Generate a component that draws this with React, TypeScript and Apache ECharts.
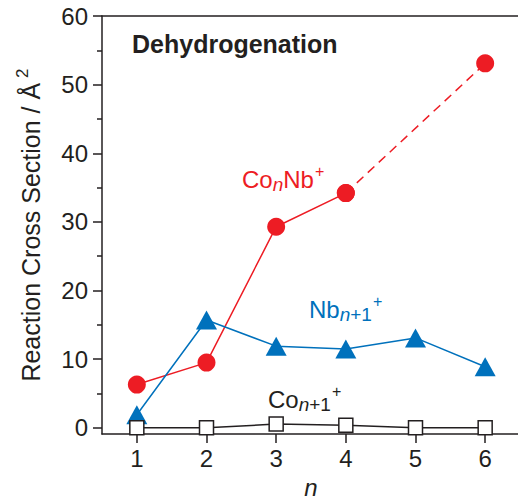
import React, { useEffect, useRef } from "react";
import * as echarts from "echarts";

const xTicks = [1, 2, 3, 4, 5, 6];
const yMajor = [0, 10, 20, 30, 40, 50, 60];
const yMinor = [5, 15, 25, 35, 45, 55];

const n = [1, 2, 3, 4, 5, 6];
const coNbSolid = [6.3, 9.5, 29.3, 34.2];
const coNbDashed: [number, number][] = [
  [4, 34.2],
  [6, 53.1],
];
const nbValues = [1.9, 15.7, 11.9, 11.5, 13.1, 8.9];
const coValues = [0, 0, 0.55, 0.37, 0, 0];

const RED = "#ED1C24";
const BLUE = "#0071BC";
const BLACK = "#231F20";
const FONT = "'Liberation Sans', Arial, Helvetica, sans-serif";

const pair = (vals: number[]) => vals.map((v, i) => [n[i], v]);

const richBase = (color: string) => ({
  m: { fontSize: 24, lineHeight: 24, fill: color, fontFamily: FONT },
  si: { fontSize: 19, lineHeight: 19, fill: color, fontFamily: FONT, fontStyle: "italic", padding: [11, 0, 0, 0] },
  s: { fontSize: 19, lineHeight: 19, fill: color, fontFamily: FONT, padding: [11, 0, 0, 0] },
  p: { fontSize: 16, lineHeight: 16, fill: color, fontFamily: FONT, padding: [0, 0, 16, 1] },
});

export default function App() {
  const ref = useRef<HTMLDivElement>(null);
  useEffect(() => {
    if (!ref.current) return;
    const chart = echarts.init(ref.current, null, { renderer: "svg" });
    const axisLineStyle = { color: BLACK, width: 1.5 };
    chart.setOption({
      animation: false,
      backgroundColor: "#ffffff",
      textStyle: { fontFamily: FONT },
      grid: { left: 102, top: 16, right: -2, bottom: 68, outerBoundsMode: "none", containLabel: false },
      xAxis: [
        {
          type: "value",
          min: 0.5,
          max: 6.5,
          position: "bottom",
          name: "n",
          nameLocation: "middle",
          nameGap: 41,
          nameTextStyle: { fontSize: 24, fontStyle: "italic", color: BLACK, fontFamily: FONT },
          axisLine: { show: true, onZero: false, lineStyle: axisLineStyle },
          axisTick: { show: true, customValues: xTicks, length: 9, lineStyle: axisLineStyle },
          axisLabel: { show: true, customValues: xTicks, margin: 12, fontSize: 24, color: BLACK, fontFamily: FONT },
          splitLine: { show: false },
        },
        {
          type: "value",
          min: 0.5,
          max: 6.5,
          position: "top",
          axisLine: { show: true, onZero: false, lineStyle: axisLineStyle },
          axisTick: { show: false },
          axisLabel: { show: false },
          splitLine: { show: false },
        },
      ],
      yAxis: [
        {
          type: "value",
          min: -0.9,
          max: 60,
          position: "left",
          name: "Reaction Cross Section / Å{p|2}",
          nameLocation: "middle",
          nameGap: 59,
          nameTextStyle: {
            fontSize: 25,
            color: BLACK,
            fontFamily: FONT,
            rich: {
              p: { fontSize: 17, lineHeight: 17, color: BLACK, fontFamily: FONT, padding: [0, 0, 16, 5] },
            },
          },
          axisLine: { show: true, onZero: false, lineStyle: axisLineStyle },
          axisTick: { show: true, customValues: yMajor, length: 9, lineStyle: axisLineStyle },
          axisLabel: { show: true, customValues: yMajor, margin: 14, fontSize: 24, color: BLACK, fontFamily: FONT },
          splitLine: { show: false },
        },
        {
          type: "value",
          min: -0.9,
          max: 60,
          position: "left",
          axisLine: { show: false },
          axisTick: { show: true, customValues: yMinor, length: 5, lineStyle: axisLineStyle },
          axisLabel: { show: false },
          splitLine: { show: false },
        },
      ],
      graphic: [
        {
          type: "text",
          x: 132,
          y: 44,
          style: {
            text: "Dehydrogenation",
            fill: BLACK,
            font: `bold 25px ${FONT}`,
            verticalAlign: "middle",
            align: "left",
          },
        },
        {
          type: "text",
          x: 242,
          y: 179,
          style: {
            text: "{m|Co}{si|n}{m|Nb}{p|+}",
            align: "left",
            verticalAlign: "middle",
            fill: RED,
            rich: richBase(RED),
          },
        },
        {
          type: "text",
          x: 309,
          y: 309,
          style: {
            text: "{m|Nb}{si|n}{s|+1}{p|+}",
            align: "left",
            verticalAlign: "middle",
            fill: BLUE,
            rich: richBase(BLUE),
          },
        },
        {
          type: "text",
          x: 268,
          y: 399,
          style: {
            text: "{m|Co}{si|n}{s|+1}{p|+}",
            align: "left",
            verticalAlign: "middle",
            fill: BLACK,
            rich: richBase(BLACK),
          },
        },
      ],
      series: [
        {
          name: "CoNb+",
          type: "line",
          data: pair(coNbSolid),
          symbol: "circle",
          symbolSize: 18,
          itemStyle: { color: RED },
          lineStyle: { color: RED, width: 1.5 },
        },
        {
          name: "CoNb+ dashed",
          type: "line",
          data: coNbDashed,
          symbol: "circle",
          symbolSize: 18,
          itemStyle: { color: RED },
          lineStyle: { color: RED, width: 1.5, type: [9, 6] },
        },
        {
          name: "Nb(n+1)+",
          type: "line",
          data: pair(nbValues),
          symbol: "triangle",
          symbolSize: [21, 19],
          itemStyle: { color: BLUE },
          lineStyle: { color: BLUE, width: 1.5 },
        },
        {
          name: "Co(n+1)+",
          type: "line",
          data: pair(coValues),
          symbol: "rect",
          symbolSize: 14,
          itemStyle: { color: "#ffffff", borderColor: BLACK, borderWidth: 1.5 },
          lineStyle: { color: BLACK, width: 1.5 },
        },
      ],
    });
    return () => chart.dispose();
  }, []);
  return (
    <div
      ref={ref}
      style={{ position: "fixed", left: 0, top: 0, width: 518, height: 502, background: "#fff" }}
    />
  );
}
